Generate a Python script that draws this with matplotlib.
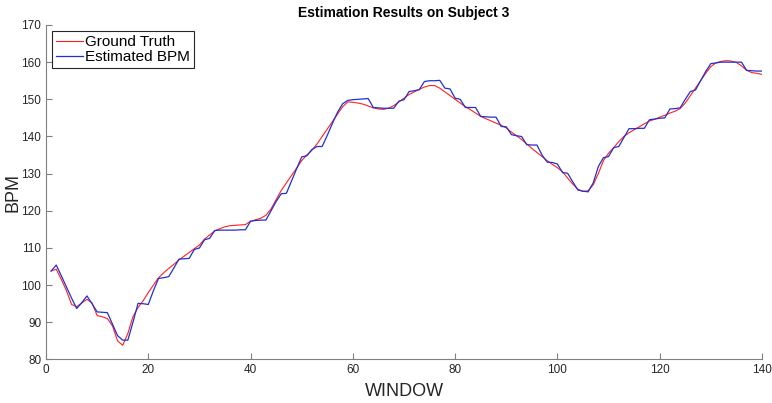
import numpy as np
import matplotlib
matplotlib.use('Agg')
import matplotlib.pyplot as plt

plt.rcParams['font.family'] = ['Liberation Sans', 'DejaVu Sans']

# window index 1..140
windows = np.arange(1, 141)

ground_truth = [
    103.8, 104.3, 101.5, 98.5, 94.8, 94.2, 95.2, 96.2, 95.2, 91.8,
    91.5, 91.0, 89.0, 85.0, 83.8, 87.0, 91.5, 94.0, 95.8, 98.0,
    100.0, 102.0, 103.3, 104.5, 105.6, 106.8, 107.8, 108.8, 109.8, 110.8,
    112.4, 113.5, 114.6, 115.2, 115.7, 116.0, 116.1, 116.2, 116.3, 117.2,
    117.6, 118.0, 118.8, 120.5, 123.0, 125.5, 127.5, 129.5, 131.5, 133.5,
    135.0, 136.3, 138.0, 140.0, 142.0, 144.0, 146.0, 148.0, 149.3, 149.2,
    149.0, 148.7, 148.2, 147.7, 147.4, 147.3, 147.6, 148.3, 149.3, 150.3,
    151.3, 152.0, 152.7, 153.3, 153.7, 153.7, 153.0, 152.0, 151.0, 150.0,
    149.0, 148.0, 147.2, 146.3, 145.4, 144.8, 144.2, 143.6, 143.0, 142.3,
    141.2, 140.2, 139.2, 138.0, 136.8, 135.7, 134.6, 133.5, 132.5, 131.6,
    130.5, 128.8, 127.2, 125.8, 125.2, 125.4, 127.0, 130.0, 133.5, 135.5,
    137.0, 138.6, 140.0, 141.0, 141.8, 142.6, 143.4, 144.2, 144.6, 145.2,
    145.7, 146.3, 146.8, 147.5, 149.0, 151.0, 153.0, 155.0, 157.0, 158.8,
    159.8, 160.2, 160.4, 160.3, 159.9, 159.0, 157.8, 157.2, 157.0, 156.7,
]

estimated = [
    103.8, 105.4, 102.5, 99.5, 96.5, 93.7, 95.3, 97.1, 95.0, 92.8,
    92.7, 92.6, 89.5, 86.4, 85.2, 85.2, 90.0, 95.1, 95.0, 94.8,
    98.5, 101.8, 102.0, 102.3, 104.6, 107.0, 107.1, 107.2, 109.6, 110.0,
    112.2, 112.6, 114.7, 114.8, 114.8, 114.8, 114.8, 114.9, 114.9, 117.2,
    117.4, 117.5, 117.5, 120.0, 122.5, 124.6, 124.7, 128.0, 131.3, 134.5,
    134.8, 136.5, 137.3, 137.3, 140.3, 143.5, 146.5, 148.8, 149.7, 149.9,
    150.0, 150.1, 150.2, 147.8, 147.7, 147.6, 147.6, 147.6, 149.5, 149.9,
    152.1, 152.3, 152.6, 154.8, 155.0, 155.0, 155.1, 153.0, 152.8, 150.3,
    150.0, 147.8, 147.8, 147.8, 145.4, 145.3, 145.2, 145.2, 142.7, 142.6,
    140.5, 140.2, 140.0, 137.8, 137.7, 137.7, 135.0, 133.1, 133.0, 132.6,
    130.3, 130.1, 127.8, 125.6, 125.3, 125.1, 127.5, 131.9, 134.3, 134.6,
    137.0, 137.3, 139.7, 142.1, 142.1, 142.2, 142.2, 144.5, 144.7, 144.9,
    145.0, 147.4, 147.5, 147.7, 150.0, 152.1, 152.5, 155.0, 157.5, 159.6,
    159.8, 160.0, 160.0, 160.0, 160.0, 160.0, 157.8, 157.7, 157.6, 157.6,
]

fig = plt.figure(figsize=(7.72, 4.03), dpi=100)
ax = fig.add_axes([0.0596, 0.108, 0.9274, 0.83])

ax.plot(windows, ground_truth, color='#ff2020', linewidth=0.8, label='Ground Truth')
ax.plot(windows, estimated, color='#2030d0', linewidth=0.9, label='Estimated BPM')

ax.set_xlim(0, 140)
ax.set_ylim(80, 170)
ax.set_xticks(np.arange(0, 141, 20))
ax.set_yticks(np.arange(80, 171, 10))

for side in ['top', 'right']:
    ax.spines[side].set_visible(False)
for side in ['left', 'bottom']:
    ax.spines[side].set_color('#808080')
    ax.spines[side].set_linewidth(0.8)
ax.tick_params(direction='in', length=4, width=0.8, color='#808080',
               labelsize=8.5, labelcolor='#262626')

ax.set_xlabel('WINDOW', fontsize=13, color='#262626', labelpad=5)
ax.set_ylabel('BPM', fontsize=13, color='#262626', va='center')
ax.yaxis.set_label_coords(-0.046, 0.5)
ax.set_title('Estimation Results on Subject 3', fontsize=10, fontweight='bold', pad=6)

leg = ax.legend(loc='upper left', fontsize=11, handlelength=1.8, handletextpad=0.1,
                borderpad=0.25, labelspacing=0.1, fancybox=False, framealpha=1,
                borderaxespad=0.4)
leg.get_frame().set_edgecolor('#262626')
leg.get_frame().set_linewidth(0.8)

fig.savefig('out.png', dpi=100)
